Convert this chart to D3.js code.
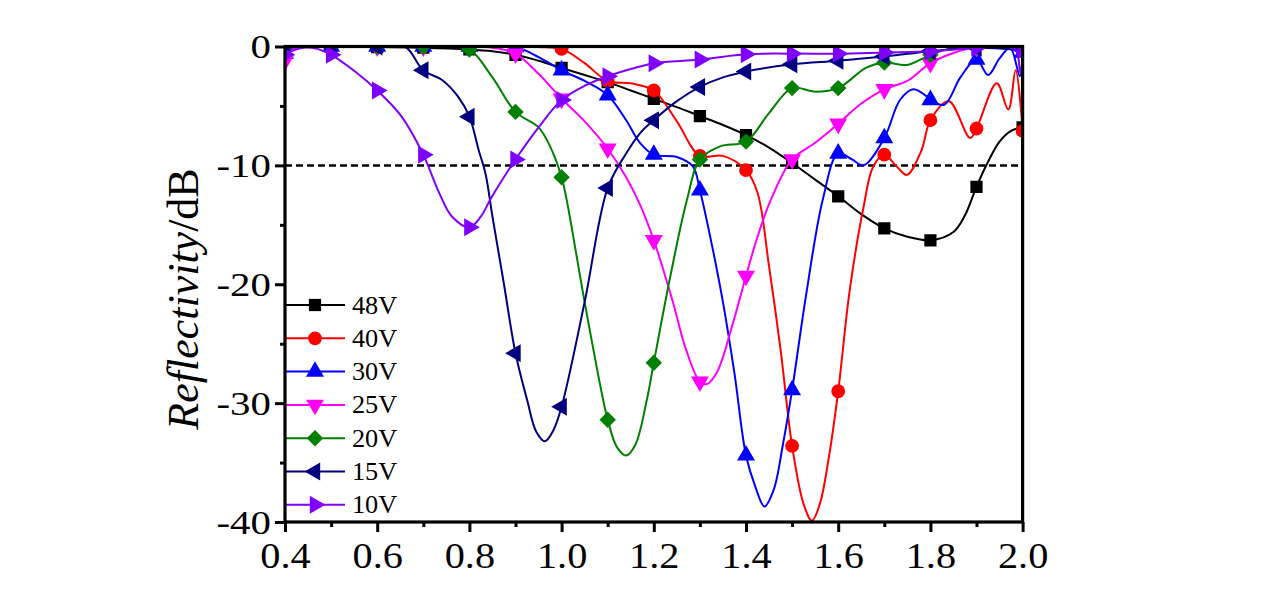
<!DOCTYPE html>
<html><head><meta charset="utf-8">
<script src="https://cdn.jsdelivr.net/npm/d3@7"></script>
<style>body{margin:0;background:#fff;} svg{display:block;}</style>
</head><body>
<svg id="c" width="1280" height="605"></svg>
<script>
// ---------- data ----------
const seriesNames = ["48V","40V","30V","25V","20V","15V","10V"];
const seriesColors = ["#000000","#ff0000","#0000ff","#ff00ff","#008000","#000080","#8000ff"];
const seriesMarkers = ["square","circle","up","down","diamond","left","right"];

const s48 = [[0.4,0],[0.5,0],[0.6,-0.05],[0.7,-0.1],[0.8,-0.25],[0.85,-0.4],[0.9,-0.7],[0.95,-1.2],[1.0,-1.8],[1.05,-2.4],[1.1,-3.0],[1.15,-3.7],[1.2,-4.4],[1.25,-5.1],[1.3,-5.85],[1.35,-6.6],[1.4,-7.45],[1.45,-8.5],[1.5,-9.8],[1.55,-11.2],[1.6,-12.6],[1.65,-14.1],[1.7,-15.3],[1.75,-16.0],[1.8,-16.3],[1.85,-15.6],[1.875,-14.2],[1.9,-11.8],[1.925,-9.7],[1.95,-8.0],[1.975,-7.1],[2.0,-6.8]];
const s40 = [[0.4,0],[0.5,0],[0.6,0],[0.7,0],[0.8,0],[0.9,0],[0.95,-0.05],[1.0,-0.2],[1.05,-1.4],[1.1,-2.9],[1.15,-3.1],[1.2,-3.7],[1.25,-6.3],[1.3,-9.2],[1.35,-9.2],[1.4,-10.4],[1.425,-12.3],[1.45,-18.5],[1.475,-25.5],[1.5,-33.6],[1.525,-38.5],[1.543,-39.9],[1.56,-38.5],[1.58,-34.5],[1.6,-29.0],[1.625,-20.5],[1.655,-13.5],[1.676,-10.1],[1.7,-9.1],[1.727,-10.1],[1.749,-10.8],[1.78,-8.8],[1.8,-6.2],[1.84,-4.6],[1.886,-7.7],[1.9,-6.9],[1.944,-3.1],[1.969,-5.3],[1.985,-2.0],[2.0,-7.1]];
const s30 = [[0.4,-0.6],[0.425,-0.05],[0.45,0],[0.5,0],[0.6,0],[0.7,0],[0.8,0],[0.9,-0.05],[0.95,-0.9],[1.0,-2.0],[1.05,-2.9],[1.1,-4.1],[1.14,-6.2],[1.17,-8.1],[1.2,-9.1],[1.25,-9.3],[1.285,-10.1],[1.3,-12.1],[1.325,-16.5],[1.35,-21.5],[1.375,-27.5],[1.4,-34.4],[1.42,-37.0],[1.44,-38.7],[1.46,-37.3],[1.48,-33.5],[1.5,-28.9],[1.53,-21.0],[1.567,-12.8],[1.6,-9.0],[1.63,-9.5],[1.655,-10.0],[1.7,-7.7],[1.734,-4.5],[1.763,-3.6],[1.792,-4.2],[1.8,-4.5],[1.83,-4.9],[1.865,-2.6],[1.9,-1.1],[1.925,-2.4],[1.95,-1.0],[1.973,-0.1],[1.994,-2.5],[2.0,-0.5]];
const s25 = [[0.4,-1.2],[0.41,-0.5],[0.425,-0.05],[0.45,0],[0.5,0],[0.6,0],[0.7,0],[0.8,0],[0.85,-0.1],[0.9,-0.6],[0.95,-2.3],[1.0,-4.4],[1.05,-6.3],[1.1,-8.6],[1.14,-11.0],[1.17,-13.3],[1.2,-16.3],[1.24,-21.3],[1.27,-25.5],[1.3,-28.2],[1.315,-28.4],[1.337,-27.4],[1.37,-23.5],[1.4,-19.3],[1.425,-16.0],[1.455,-12.8],[1.5,-9.5],[1.55,-8.1],[1.6,-6.5],[1.65,-4.8],[1.7,-3.6],[1.75,-2.9],[1.8,-1.4],[1.85,-0.55],[1.9,-0.05],[1.95,0],[2.0,0]];
const s20 = [[0.4,0],[0.5,0],[0.6,0],[0.7,0],[0.75,0],[0.8,-0.25],[0.85,-2.6],[0.9,-5.5],[0.95,-6.8],[0.975,-8.4],[1.0,-11.0],[1.011,-12.9],[1.05,-21.5],[1.09,-29.7],[1.1,-31.4],[1.12,-33.7],[1.14,-34.4],[1.16,-33.5],[1.185,-29.7],[1.2,-26.6],[1.235,-19.5],[1.272,-12.9],[1.3,-9.5],[1.344,-8.4],[1.4,-8.0],[1.45,-5.6],[1.5,-3.5],[1.55,-3.8],[1.6,-3.5],[1.66,-1.8],[1.7,-1.35],[1.75,-1.55],[1.8,-0.7],[1.85,-0.1],[1.9,0],[2.0,0]];
const s15 = [[0.4,0],[0.5,0],[0.6,0],[0.66,0],[0.7,-2.0],[0.74,-2.8],[0.775,-4.2],[0.8,-5.9],[0.82,-8.7],[0.835,-10.7],[0.85,-14.3],[0.875,-20.0],[0.9,-25.8],[0.925,-29.7],[0.945,-32.4],[0.964,-33.2],[0.982,-32.3],[1.0,-30.3],[1.05,-21.5],[1.1,-11.9],[1.14,-9.0],[1.17,-7.3],[1.2,-6.2],[1.25,-4.6],[1.3,-3.4],[1.35,-2.6],[1.4,-2.1],[1.5,-1.5],[1.6,-1.2],[1.7,-0.85],[1.8,-0.4],[1.9,-0.1],[2.0,-0.3]];
const s10 = [[0.4,-0.7],[0.42,-0.3],[0.44,-0.1],[0.47,-0.2],[0.5,-0.7],[0.552,-2.1],[0.6,-3.7],[0.653,-5.9],[0.7,-9.1],[0.732,-12.1],[0.762,-14.3],[0.8,-15.2],[0.825,-14.3],[0.845,-12.9],[0.87,-11.3],[0.9,-9.5],[0.95,-6.8],[1.0,-4.5],[1.05,-3.3],[1.1,-2.5],[1.15,-1.9],[1.2,-1.4],[1.3,-1.1],[1.4,-0.65],[1.5,-0.6],[1.6,-0.6],[1.7,-0.5],[1.8,-0.4],[1.9,-0.1],[1.95,0],[1.985,-0.3],[1.995,-2.2],[2.0,-0.3]];
const seriesData = [s48, s40, s30, s25, s20, s15, s10];

const xTickValues = [0.4,0.6,0.8,1.0,1.2,1.4,1.6,1.8,2.0];
const xMinorValues = [0.5,0.7,0.9,1.1,1.3,1.5,1.7,1.9];
const yTickValues = [0,-10,-20,-30,-40];
const yMinorValues = [-5,-15,-25,-35];
const thresholdDb = -10;

// ---------- layout ----------
const svg = d3.select('#c');
const L = 285, R = 1022.6, T = 46.5, B = 522;
const x = d3.scaleLinear().domain([0.4, 2.0]).range([L, R]);
const y = d3.scaleLinear().domain([0, -40]).range([T, B]);
const FONT = "'Liberation Serif','Times New Roman',serif";

svg.append('defs').append('clipPath').attr('id', 'plotclip')
  .append('rect').attr('x', L).attr('y', T).attr('width', R - L).attr('height', B - T);

// dashed threshold line
svg.append('line')
  .attr('x1', x(0.4)).attr('x2', x(2.0))
  .attr('y1', y(thresholdDb)).attr('y2', y(thresholdDb))
  .attr('stroke', '#000').attr('stroke-width', 2.5).attr('stroke-dasharray', '7,4');

function markerPath(kind) {
  switch (kind) {
    case 'square': return {p: d3.symbol(d3.symbolSquare, 150)(), r: 0};
    case 'circle': return {p: d3.symbol(d3.symbolCircle, 150)(), r: 0};
    case 'up': return {p: d3.symbol(d3.symbolTriangle, 140)(), r: 0};
    case 'down': return {p: d3.symbol(d3.symbolTriangle, 140)(), r: 180};
    case 'left': return {p: d3.symbol(d3.symbolTriangle, 140)(), r: -90};
    case 'right': return {p: d3.symbol(d3.symbolTriangle, 140)(), r: 90};
    case 'diamond': return {p: d3.symbol(d3.symbolSquare, 135)(), r: 45};
  }
}

const line = d3.line().x(d => x(d[0])).y(d => y(d[1])).curve(d3.curveCatmullRom.alpha(0.5));
const onGrid = v => Math.abs(v * 10 - Math.round(v * 10)) < 1e-6;

const plot = svg.append('g').attr('clip-path', 'url(#plotclip)');
seriesData.forEach((data, i) => {
  const g = plot.append('g');
  g.append('path').attr('d', line(data)).attr('fill', 'none')
    .attr('stroke', seriesColors[i]).attr('stroke-width', 2);
  const mk = markerPath(seriesMarkers[i]);
  g.selectAll('path.m').data(data.filter(d => onGrid(d[0]))).join('path')
    .attr('class', 'm').attr('d', mk.p)
    .attr('transform', d => `translate(${x(d[0])},${y(d[1])}) rotate(${mk.r})`)
    .attr('fill', seriesColors[i]);
});

// legend
const legY0 = 305, legDy = 33.3;
seriesNames.forEach((name, i) => {
  const yy = legY0 + i * legDy;
  svg.append('line').attr('x1', L).attr('x2', 345).attr('y1', yy).attr('y2', yy)
    .attr('stroke', seriesColors[i]).attr('stroke-width', 2);
  const mk = markerPath(seriesMarkers[i]);
  svg.append('path').attr('d', mk.p).attr('transform', `translate(315,${yy}) rotate(${mk.r})`)
    .attr('fill', seriesColors[i]);
  svg.append('text').attr('transform', `translate(352,${yy + 8.5}) scale(1.05,1)`).text(name)
    .attr('font-family', FONT).attr('font-size', 25).attr('fill', '#000');
});

// axes
const xAxis = svg.append('g').attr('transform', `translate(0,${B})`)
  .call(d3.axisBottom(x).tickValues(xTickValues).tickSize(10).tickFormat(d3.format('.1f')));
svg.append('g').attr('transform', `translate(0,${B})`)
  .call(d3.axisBottom(x).tickValues(xMinorValues).tickSize(5).tickFormat(''))
  .call(g => g.select('.domain').remove());
const yAxis = svg.append('g').attr('transform', `translate(${L},0)`)
  .call(d3.axisLeft(y).tickValues(yTickValues).tickSize(10).tickFormat(d => d === 0 ? '0' : '-' + Math.abs(d)));
svg.append('g').attr('transform', `translate(${L},0)`)
  .call(d3.axisLeft(y).tickValues(yMinorValues).tickSize(5).tickFormat(''))
  .call(g => g.select('.domain').remove());

svg.selectAll('.tick line').attr('stroke', '#000').attr('stroke-width', 3);
xAxis.selectAll('.tick text').attr('font-family', FONT).attr('font-size', 36)
  .attr('fill', '#000').attr('x', 0).attr('y', 0).attr('dy', 0)
  .attr('transform', 'translate(0,46) scale(1.12,1)');
yAxis.selectAll('.tick text').attr('font-family', FONT).attr('font-size', 33)
  .attr('fill', '#000').attr('x', 0).attr('dy', '0.34em')
  .attr('transform', 'translate(-14,0) scale(1.24,1)');
svg.selectAll('.domain').remove();

// frame
svg.append('rect').attr('x', L).attr('y', T).attr('width', R - L).attr('height', B - T)
  .attr('fill', 'none').attr('stroke', '#000').attr('stroke-width', 3.2);

// y title
const title = svg.append('text').attr('transform', `translate(198,${(168 + 430) / 2}) rotate(-90)`)
  .attr('text-anchor', 'middle').attr('font-family', FONT).attr('font-size', 44).attr('fill', '#000');
title.append('tspan').attr('font-style', 'italic').text('Reflectivity');
title.append('tspan').text('/dB');
</script>
</body></html>
